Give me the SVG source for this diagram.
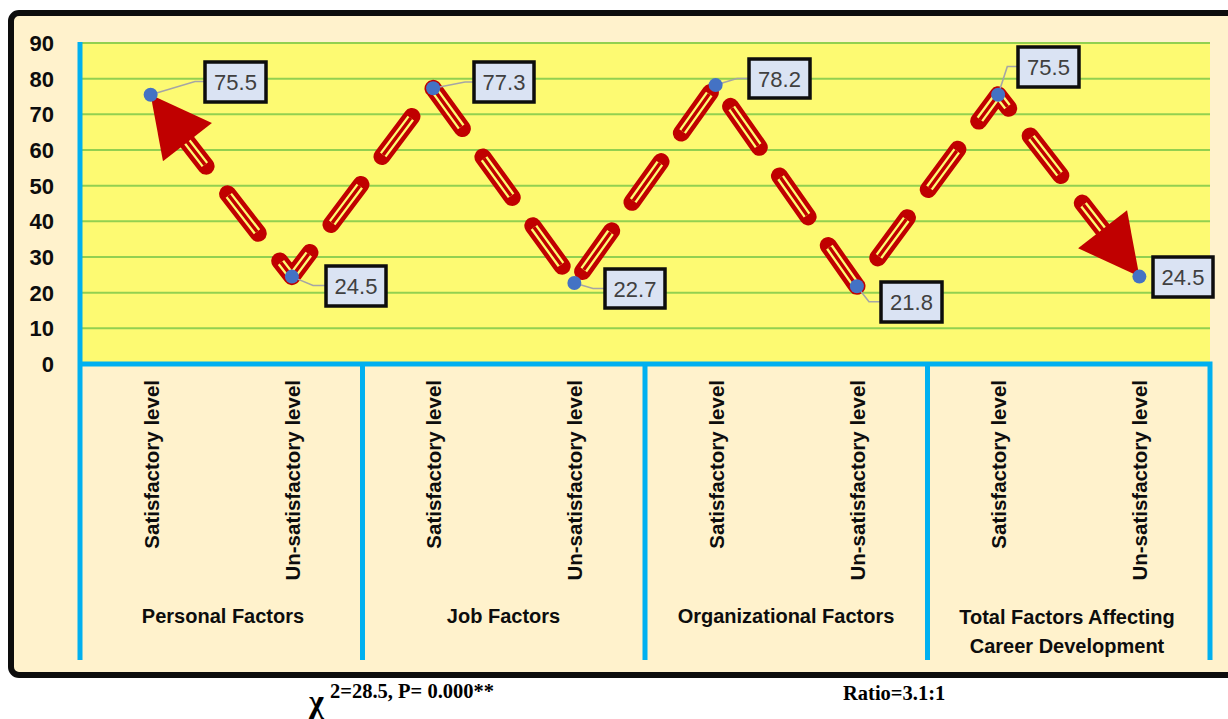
<svg xmlns="http://www.w3.org/2000/svg" width="1228" height="719" viewBox="0 0 1228 719">
<style>
.tick{font-family:"Liberation Sans",Arial,sans-serif;font-weight:bold;font-size:22px;fill:#0d0d0d;text-anchor:end}
.lvl{font-family:"Liberation Sans",Arial,sans-serif;font-weight:bold;font-size:20.5px;fill:#0d0d0d;text-anchor:end}
.cat{font-family:"Liberation Sans",Arial,sans-serif;font-weight:bold;font-size:20px;fill:#0d0d0d;text-anchor:middle}
.stat{font-family:"Liberation Serif","Times New Roman",serif;font-weight:bold;font-size:20.5px;fill:#000}
.grid{stroke:#92d050;stroke-width:2}
.blue{stroke:#00b0f0;stroke-width:5;fill:none}
.dR{fill:none;stroke:#c00000;stroke-width:17;stroke-linecap:round;stroke-linejoin:round;stroke-dasharray:50 35}
.dY{fill:none;stroke:#fdfa72;stroke-width:8;stroke-linecap:butt;stroke-linejoin:round;stroke-dasharray:46 39;stroke-dashoffset:-2}
.dC{fill:none;stroke:#c00000;stroke-width:3.4;stroke-linecap:butt;stroke-linejoin:round;stroke-dasharray:46 39;stroke-dashoffset:-2}
.arrow{fill:#c00000}
.leader{fill:none;stroke:#a5a5a5;stroke-width:1.6}
.dot{fill:#4472c4}
.box{fill:#dae3f3;stroke:#0d0d0d;stroke-width:3.5}
.val{font-family:"Liberation Sans",Arial,sans-serif;font-size:22px;fill:#404040;text-anchor:middle}
</style>

<g id="frame">
<rect x="11" y="13" width="1230" height="662" rx="8" fill="#fff2cc" stroke="#0d0d0d" stroke-width="6"/>
</g>

<g id="plot-area">
<rect x="80" y="42" width="1130" height="322" fill="#fdfa72"/>
<line class="grid" x1="80" y1="43" x2="1210" y2="43"/>
<line class="grid" x1="80" y1="78.7" x2="1210" y2="78.7"/>
<line class="grid" x1="80" y1="114.3" x2="1210" y2="114.3"/>
<line class="grid" x1="80" y1="150" x2="1210" y2="150"/>
<line class="grid" x1="80" y1="185.7" x2="1210" y2="185.7"/>
<line class="grid" x1="80" y1="221.3" x2="1210" y2="221.3"/>
<line class="grid" x1="80" y1="257" x2="1210" y2="257"/>
<line class="grid" x1="80" y1="292.7" x2="1210" y2="292.7"/>
<line class="grid" x1="80" y1="328.3" x2="1210" y2="328.3"/>
</g>

<g id="axes">
<path class="blue" d="M80,42 V660 M80,364 H1210 V660 M362.5,364 V660 M645,364 V660 M927.5,364 V660"/>
<text class="tick" x="54" y="51">90</text>
<text class="tick" x="54" y="86.7">80</text>
<text class="tick" x="54" y="122.3">70</text>
<text class="tick" x="54" y="158">60</text>
<text class="tick" x="54" y="193.7">50</text>
<text class="tick" x="54" y="229.3">40</text>
<text class="tick" x="54" y="265">30</text>
<text class="tick" x="54" y="300.7">20</text>
<text class="tick" x="54" y="336.3">10</text>
<text class="tick" x="54" y="372">0</text>
</g>

<g id="category-labels">
<text class="lvl" transform="translate(158.5,380) rotate(-90)">Satisfactory level</text>
<text class="lvl" transform="translate(299.5,380) rotate(-90)">Un-satisfactory level</text>
<text class="lvl" transform="translate(441,380) rotate(-90)">Satisfactory level</text>
<text class="lvl" transform="translate(582,380) rotate(-90)">Un-satisfactory level</text>
<text class="lvl" transform="translate(723.5,380) rotate(-90)">Satisfactory level</text>
<text class="lvl" transform="translate(864.5,380) rotate(-90)">Un-satisfactory level</text>
<text class="lvl" transform="translate(1006,380) rotate(-90)">Satisfactory level</text>
<text class="lvl" transform="translate(1147,380) rotate(-90)">Un-satisfactory level</text>
<text class="cat" x="223" y="623">Personal Factors</text>
<text class="cat" x="503.5" y="623">Job Factors</text>
<text class="cat" x="786" y="623">Organizational Factors</text>
<text class="cat" x="1067" y="624">Total Factors Affecting</text>
<text class="cat" x="1067" y="653">Career Development</text>
</g>

<g id="connectors">
<path id="trend-red" class="dR" d="M175.45,126.69 L291.88,276.62 L433.13,88.3 L574.38,283.04 L715.63,85.09 L856.88,286.25 L998.13,94.72 L1118.81,250.13"/>
<path id="trend-yellow" class="dY" d="M175.45,126.69 L291.88,276.62 L433.13,88.3 L574.38,283.04 L715.63,85.09 L856.88,286.25 L998.13,94.72 L1118.81,250.13"/>
<path id="trend-core" class="dC" d="M175.45,126.69 L291.88,276.62 L433.13,88.3 L574.38,283.04 L715.63,85.09 L856.88,286.25 L998.13,94.72 L1118.81,250.13"/>
<polygon class="arrow" points="150.63,94.72 211.92,123.09 162.96,161.13"/>
<polygon class="arrow" points="1139.38,276.62 1078.10,248.25 1127.06,210.21"/>
<path class="leader" d="M150.63,94.72 L195,81.5 H205"/>
<path class="leader" d="M291.88,276.62 L313,285.5 H326"/>
<path class="leader" d="M433.13,88.3 L465,82 H474"/>
<path class="leader" d="M574.38,283.04 L593,288.5 H605"/>
<path class="leader" d="M715.63,85.09 L737,78.5 H749"/>
<path class="leader" d="M856.88,286.25 L869,301.7 H881"/>
<path class="leader" d="M998.13,94.72 L1007.3,66.5 H1018"/>
</g>

<g id="p1"><circle class="dot" cx="150.63" cy="94.72" r="7"/><rect class="box" x="205" y="62" width="61" height="40"/><text class="val" x="235.5" y="90">75.5</text></g>
<g id="p2"><circle class="dot" cx="291.88" cy="276.62" r="7"/><rect class="box" x="326" y="266" width="60" height="40"/><text class="val" x="356" y="294">24.5</text></g>
<g id="p3"><circle class="dot" cx="433.13" cy="88.3" r="7"/><rect class="box" x="474" y="62" width="60" height="40"/><text class="val" x="504" y="90">77.3</text></g>
<g id="p4"><circle class="dot" cx="574.38" cy="283.04" r="7"/><rect class="box" x="605" y="269" width="60" height="39"/><text class="val" x="635" y="296.5">22.7</text></g>
<g id="p5"><circle class="dot" cx="715.63" cy="85.09" r="7"/><rect class="box" x="749" y="59" width="61" height="39"/><text class="val" x="779.5" y="86.5">78.2</text></g>
<g id="p6"><circle class="dot" cx="856.88" cy="286.25" r="7"/><rect class="box" x="881" y="282" width="61" height="40"/><text class="val" x="911.5" y="310">21.8</text></g>
<g id="p7"><circle class="dot" cx="998.13" cy="94.72" r="7"/><rect class="box" x="1018" y="47" width="61" height="40"/><text class="val" x="1048.5" y="75">75.5</text></g>
<g id="p8"><circle class="dot" cx="1139.38" cy="276.62" r="7"/><rect class="box" x="1153" y="257" width="60" height="40"/><text class="val" x="1183" y="285">24.5</text></g>

<g id="statistics">
<text class="stat" x="309" y="712" style="font-size:32px">χ</text>
<text class="stat" x="330" y="698">2=28.5, P= 0.000**</text>
<text class="stat" x="843" y="700">Ratio=3.1:1</text>
</g>
</svg>
